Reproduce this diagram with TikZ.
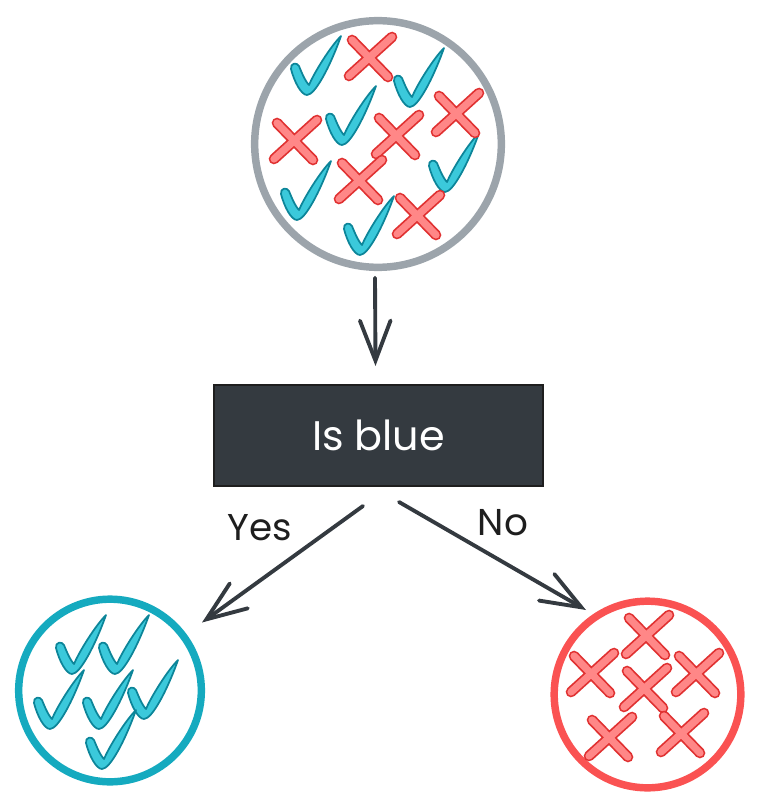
\documentclass[tikz,border=0pt]{standalone}
\usepackage{tikz}
\usetikzlibrary{arrows.meta}
\usepackage{xcolor}
\usepackage{fontspec}
\setmainfont{Poppins}

\definecolor{poolgray}{HTML}{9CA4AB}
\definecolor{poolcyan}{HTML}{15AABF}
\definecolor{poolred}{HTML}{FA5252}
\definecolor{checkfill}{HTML}{3BC9DB}
\definecolor{checkedge}{HTML}{0C8599}
\definecolor{crossfill}{HTML}{FF8787}
\definecolor{crossedge}{HTML}{E03131}
\definecolor{boxfill}{HTML}{343A40}
\definecolor{boxedge}{HTML}{1E1E1E}
\definecolor{inkdark}{HTML}{343A40}

\begin{document}
\begin{tikzpicture}[x=0.75pt, y=-0.75pt]
        % ================= 样式定义 =================
        \tikzset{
            % 圆形样本池
            pool_node/.style={circle, line width=5.6pt, fill=white, inner sep=0pt, outer sep=0pt},
            % 判断框 (深底白字)
            test_box/.style={rectangle, draw=boxedge, line width=2pt, fill=boxfill, text=white,
                minimum width=246.75pt, minimum height=75.75pt, inner sep=0pt, outer sep=0pt,
                font=\fontsize{31}{34}\selectfont},
            % 分支标签
            branch_label/.style={text=boxedge, inner sep=0pt, font=\fontsize{28}{30}\selectfont},
            % 箭头
            arrow_line/.style={line width=2.9pt, inkdark, line cap=round,
                -{Straight Barb[length=30pt, width=23pt, line cap=round]}},
            % 勾与叉
            check_shape/.style={fill=checkfill, draw=checkedge, line width=1.3pt, line join=round},
            cross_edge/.style={crossedge, line width=8pt, line cap=round},
            cross_fill/.style={crossfill, line width=5.4pt, line cap=round},
            check/.pic={
                \path[check_shape] (-19,-24) .. controls (-16,-12) and (-9,2) .. (-3,2)
                    .. controls (5,2) and (20,-26) .. (31,-57)
                    .. controls (20,-46) and (4,-20) .. (-1,-8)
                    .. controls (-5,-12) and (-9,-22) .. (-11,-27)
                    .. controls (-13,-31) and (-20,-30) .. (-19,-24) -- cycle;
            },
            cross/.pic={
                \draw[cross_edge] (-18,-17) -- (18,20) (22,-20) -- (-21,19);
                \draw[cross_fill] (-18,-17) -- (18,20) (22,-20) -- (-21,19);
            }
        }

        \useasboundingbox (0,0) rectangle (760,809);

        % ================= 坐标定义 =================
        \coordinate (pool_c) at (378,144);
        \coordinate (test_c) at (378.5,435.5);
        \coordinate (yes_c) at (110,690.5);
        \coordinate (no_c) at (647.5,694.5);

        % ================= 样本池与判断框 =================
        \node[pool_node, draw=poolgray, minimum size=185pt] (pool) at (pool_c) {};
        \node[pool_node, draw=poolcyan, minimum size=137pt] (yes_pool) at (yes_c) {};
        \node[pool_node, draw=poolred, minimum size=140pt] (no_pool) at (no_c) {};
        \node[test_box] (test) at (test_c) {Is blue};

        % ================= 顶部池中的勾与叉 =================
        \pic at (310,93) {check};
        \pic at (413,105) {check};
        \pic at (345,143) {check};
        \pic at (300,218) {check};
        \pic at (448,190) {check};
        \pic at (363,253) {check};
        \pic at (370,57) {cross};
        \pic at (295,140) {cross};
        \pic at (397,135) {cross};
        \pic at (457,113) {cross};
        \pic at (360,180) {cross};
        \pic at (418,215) {cross};

        % ================= Yes 池 (只有勾) =================
        \pic at (75,672) {check};
        \pic at (118,672) {check};
        \pic at (53,727) {check};
        \pic at (102,727) {check};
        \pic at (147,717) {check};
        \pic at (105,767) {check};

        % ================= No 池 (只有叉) =================
        \pic at (647,635) {cross};
        \pic at (592,673) {cross};
        \pic at (645,688) {cross};
        \pic at (697,673) {cross};
        \pic at (610,737) {cross};
        \pic at (682,733) {cross};

        % ================= 连边 =================
        \draw[arrow_line] ([shift={(-3,10.5)}]pool.south) -- ([shift={(-3,-19)}]test.north);
        \draw[arrow_line] ([shift={(-15.5,20)}]test.south) -- ([shift={(92,-68)}]yes_pool.center);
        \draw[arrow_line] ([shift={(20.5,16)}]test.south) -- ([shift={(-61.5,-84.5)}]no_pool.center);

        % 分支标签
        \node[branch_label] (yes_label) at (260,528) {Yes};
        \node[branch_label] (no_label) at (503,523) {No};

    \end{tikzpicture}
\end{document}
